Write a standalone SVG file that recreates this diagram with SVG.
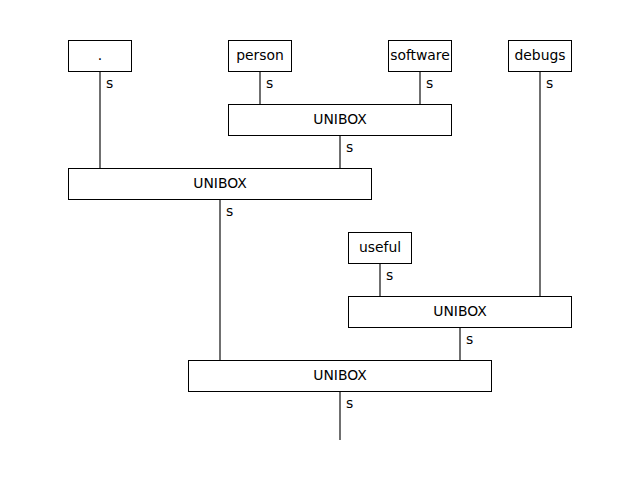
<svg xmlns="http://www.w3.org/2000/svg" width="640" height="480" viewBox="0 0 640 480">
<style>
.box{fill:#fff;stroke:#000;stroke-width:1}
.t{font-family:"DejaVu Sans",sans-serif;font-size:13.9px;fill:#000;text-anchor:middle;dominant-baseline:central}
.l{font-family:"DejaVu Sans",sans-serif;font-size:13.9px;fill:#000;dominant-baseline:central}
.c{stroke:#222;stroke-width:1.3;fill:none}
</style>
<rect width="640" height="480" fill="#fff"/>
<g id="connectors">
<line class="c" x1="100" y1="72" x2="100" y2="168"/>
<line class="c" x1="260" y1="72" x2="260" y2="104"/>
<line class="c" x1="420" y1="72" x2="420" y2="104"/>
<line class="c" x1="540" y1="72" x2="540" y2="296"/>
<line class="c" x1="340" y1="136" x2="340" y2="168"/>
<line class="c" x1="220" y1="200" x2="220" y2="360"/>
<line class="c" x1="380" y1="264" x2="380" y2="296"/>
<line class="c" x1="460" y1="328" x2="460" y2="360"/>
<line class="c" x1="340" y1="392" x2="340" y2="440"/>
<text class="l" x="106" y="83">s</text>
<text class="l" x="266" y="83">s</text>
<text class="l" x="426" y="83">s</text>
<text class="l" x="546" y="83">s</text>
<text class="l" x="346" y="147">s</text>
<text class="l" x="226" y="211">s</text>
<text class="l" x="386" y="275">s</text>
<text class="l" x="466" y="339">s</text>
<text class="l" x="346" y="403">s</text>
</g>
<g id="n_dot"><rect class="box" x="68.5" y="40.5" width="63" height="31"/><text class="t" x="100" y="55">.</text></g>
<g id="n_person"><rect class="box" x="228.5" y="40.5" width="63" height="31"/><text class="t" x="260" y="55">person</text></g>
<g id="n_software"><rect class="box" x="388.5" y="40.5" width="63" height="31"/><text class="t" x="420" y="55">software</text></g>
<g id="n_debugs"><rect class="box" x="508.5" y="40.5" width="63" height="31"/><text class="t" x="540" y="55">debugs</text></g>
<g id="n_unibox1"><rect class="box" x="228.5" y="104.5" width="223" height="31"/><text class="t" x="340" y="119">UNIBOX</text></g>
<g id="n_unibox2"><rect class="box" x="68.5" y="168.5" width="303" height="31"/><text class="t" x="220" y="183">UNIBOX</text></g>
<g id="n_useful"><rect class="box" x="348.5" y="232.5" width="63" height="31"/><text class="t" x="380" y="247">useful</text></g>
<g id="n_unibox3"><rect class="box" x="348.5" y="296.5" width="223" height="31"/><text class="t" x="460" y="311">UNIBOX</text></g>
<g id="n_unibox4"><rect class="box" x="188.5" y="360.5" width="303" height="31"/><text class="t" x="340" y="375">UNIBOX</text></g>
</svg>
